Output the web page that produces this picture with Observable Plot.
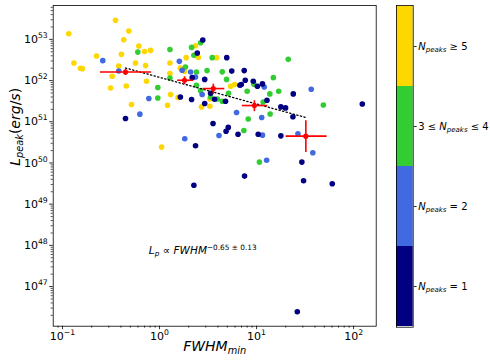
<!DOCTYPE html>
<html><head><meta charset="utf-8">
<script src="https://cdn.jsdelivr.net/npm/d3@7"></script>
<script src="https://cdn.jsdelivr.net/npm/@observablehq/plot@0.6"></script>
<style>
body{margin:0;background:#fff;}
#wrap{position:relative;width:490px;height:364px;font-family:"DejaVu Sans",sans-serif;}
#wrap svg{position:absolute;top:0;}
</style></head><body><div id="wrap"></div>
<script>
// categories (colorbar, top to bottom)
const groups = ["N_{peaks} ≥ 5", "3 ≤ N_{peaks} ≤ 4", "N_{peaks} = 2", "N_{peaks} = 1"];
const groupColors = ["#ffd700", "#32cd32", "#4169e1", "#000080"];

// N_peaks >= 5
const fwhmN5 = [0.116,0.352,0.483,0.428,0.131,0.153,0.160,0.224,0.405,0.380,0.325,0.313,0.454,0.514,0.612,0.700,0.807,0.566,0.718,0.735,1.05,1.28,1.28,1.30,1.21,1.55,1.88,2.35,2.51,1.64,1.81,3.87,2.71,3.30,5.40,5.93,3.30];
const lpeakN5 = [1.37e53,2.9e53,1.59e53,9.8e52,2.67e52,1.99e52,1.95e52,3.94e52,4.34e52,2.26e52,1.27e52,6.6e51,7.4e51,2.62e51,6.9e52,5.1e52,5.4e52,2.67e52,2.31e52,9.6e51,2.43e50,2.67e52,1.48e52,4.58e51,2.51e51,3.87e51,3.6e52,7.0e52,3.66e52,2.02e52,1.68e52,3.6e52,2.3e51,2.39e51,7.3e51,8.0e51,3.58e51];
// 3 <= N_peaks <= 4
const fwhmN34 = [0.597,1.28,2.14,2.65,2.26,1.85,2.40,1.28,0.96,0.96,2.40,2.65,3.09,3.49,4.43,4.91,3.36,3.94,4.43,5.14,8.0,14.9,13.7,16.9,11.7,13.8,8.2,7.4,21.2,48.8,10.7,9.4];
const lpeakN34 = [4.92e52,5.7e52,6.4e52,8.3e52,4.1e52,2.13e52,1.61e52,1.16e52,6.8e51,3.79e51,7.7e51,5.7e51,1.75e52,3.6e52,1.63e52,1.07e52,4.0e51,3.58e51,3.15e51,4.9e51,5.5e51,1.18e52,4.75e51,5.5e51,3.03e51,1.55e51,1.17e51,6.15e50,3.28e52,2.56e51,1.05e50,8.1e51];
// N_peaks = 2
const fwhmN2 = [0.260,0.380,0.627,0.776,1.60,1.71,2.09,2.35,1.82,4.10,6.22,2.75,12.0,11.3,11.5,36.6,26.7,38.0,12.7];
const lpeakN2 = [3.05e52,1.71e52,1.53e51,3.66e51,2.93e52,1.78e52,1.61e52,1.22e52,3.86e50,4.66e50,1.68e51,4.58e51,7.0e51,1.27e51,4.74e50,6.15e51,5.1e50,1.77e50,1.16e50];
// N_peaks = 1
const fwhmN1 = [2.79,2.45,2.17,2.92,1.64,2.14,2.92,3.36,3.69,4.79,4.93,5.55,6.73,0.446,3.56,5.11,4.85,6.44,2.35,7.46,7.65,6.96,9.25,10.2,11.5,23.9,12.8,17.8,19.9,23.7,10.4,17.8,123,29.3,7.52,30.5,60.3,26.3,2.26];
const lpeakN1 = [9.7e52,4.66e52,1.18e52,1.07e52,4.0e51,3.47e51,2.77e51,4.9e51,3.52e51,3.15e51,3.6e52,1.70e52,7.7e51,1.2e51,9.1e50,7.3e50,5.9e50,5.0e50,2.61e50,1.75e52,1.02e52,8.0e51,9.6e51,7.3e51,8.3e51,4.75e51,3.34e51,2.3e51,2.17e51,1.32e51,5.0e50,4.56e50,2.71e51,1.05e50,4.8e49,3.7e49,3.13e49,2.45e46,2.87e49];

// binned averages with errors
const binX = [0.446,1.81,3.58,9.5,32.2];
const binXlo = [0.243,1.52,2.79,7.05,19.9];
const binXhi = [0.820,2.22,4.65,12.9,52.7];
const binY = [1.61e52,1.02e52,6.4e51,2.48e51,4.48e50];
const binYlo = [1.36e52,8.2e51,4.8e51,1.81e51,1.84e50];
const binYhi = [1.91e52,1.27e52,8.4e51,3.34e51,1.09e51];

// fit line end points
const fitX = [0.446, 32.2];
const fitY = [2.02e52, 1.27e51];

// ticks
const xMajor = [0.1, 1, 10, 100];
const xTickLabels = ["10^{−1}", "10^{0}", "10^{1}", "10^{2}"];
const yMajor = [1e47, 1e48, 1e49, 1e50, 1e51, 1e52, 1e53];
const yTickLabels = ["10^{47}", "10^{48}", "10^{49}", "10^{50}", "10^{51}", "10^{52}", "10^{53}"];

const annotText = "L_{p} ∝ FWHM^{−0.65 ± 0.13}";
const annotX = 0.776, annotY = 7.4e47;

const xDomain = [0.0802, 171];
const yDomain = [1.09e46, 6.65e53];

function minorTicks(lo, hi) {
  const out = [];
  for (let e = Math.floor(Math.log10(lo)); e <= Math.ceil(Math.log10(hi)); e++)
    for (let m = 2; m <= 9; m++) { const v = m * Math.pow(10, e); if (v >= lo && v <= hi) out.push(v); }
  return out;
}
const xMinor = minorTicks(xDomain[0], xDomain[1]);
const yMinor = minorTicks(yDomain[0], yDomain[1]);

const pts = [];
[[fwhmN5, lpeakN5, groups[0]], [fwhmN34, lpeakN34, groups[1]], [fwhmN2, lpeakN2, groups[2]], [fwhmN1, lpeakN1, groups[3]]]
  .forEach(([xs, ys, g]) => xs.forEach((x, i) => pts.push({fwhm: x, lpeak: ys[i], group: g})));
const bins = binX.map((x, i) => ({x, xlo: binXlo[i], xhi: binXhi[i], y: binY[i], ylo: binYlo[i], yhi: binYhi[i]}));
const fit = fitX.map((x, i) => ({x, y: fitY[i]}));

const main = Plot.plot({
  width: 490, height: 364,
  marginLeft: 52.7, marginRight: 114.3, marginTop: 5, marginBottom: 38.3,
  style: {fontFamily: "DejaVu Sans", fontSize: "11px", color: "#000", background: "transparent"},
  x: {type: "log", domain: xDomain},
  y: {type: "log", domain: yDomain},
  color: {domain: groups, range: groupColors},
  marks: [
    Plot.axisX(xMinor, {tickSize: 2, tickFormat: () => "", label: null, strokeWidth: 0.7}),
    Plot.axisX(xMajor, {tickSize: 3.5, tickPadding: 2.5, tickFormat: d => xTickLabels[xMajor.indexOf(d)], label: null, strokeWidth: 0.8}),
    Plot.axisY(yMinor, {tickSize: 2, tickFormat: () => "", label: null, strokeWidth: 0.7}),
    Plot.axisY(yMajor, {tickSize: 3.5, tickPadding: 2, tickFormat: d => yTickLabels[yMajor.indexOf(d)], label: null, strokeWidth: 0.8}),
    Plot.dot(pts, {x: "fwhm", y: "lpeak", fill: "group", r: 2.8}),
    Plot.line(fit, {x: "x", y: "y", stroke: "#000", strokeWidth: 1.3, strokeDasharray: "1.3,2.4"}),
    Plot.link(bins, {x1: "xlo", x2: "xhi", y1: "y", y2: "y", stroke: "red", strokeWidth: 1.6}),
    Plot.link(bins, {x1: "x", x2: "x", y1: "ylo", y2: "yhi", stroke: "red", strokeWidth: 1.6}),
    Plot.dot(bins, {x: "x", y: "y", fill: "red", r: 2.6}),
    Plot.text([annotText], {x: () => annotX, y: () => annotY, text: d => d, textAnchor: "start", fontSize: 10.5}),
    Plot.text(["FWHM_{min}"], {frameAnchor: "bottom", dy: 25, text: d => d, fontSize: 14}),
    Plot.text(["L_{peak}(erg/s)"], {frameAnchor: "left", dx: -38, rotate: -90, text: d => d, fontSize: 14}),
    Plot.frame({stroke: "#000", strokeWidth: 0.8})
  ]
});

const cbar = Plot.plot({
  width: 110, height: 364,
  marginLeft: 16, marginRight: 77.3, marginTop: 5, marginBottom: 37.3,
  style: {fontFamily: "DejaVu Sans", fontSize: "10px", color: "#000", background: "transparent"},
  x: {axis: null},
  y: {type: "band", domain: groups, padding: 0, axis: null},
  color: {domain: groups, range: groupColors},
  marks: [
    Plot.cell(groups, {y: d => d, fill: d => d}),
    Plot.frame({stroke: "#000", strokeWidth: 0.8}),
    Plot.axisY({anchor: "right", tickSize: 3, tickPadding: 2, label: null, strokeWidth: 0.8})
  ]
});

const wrap = document.getElementById("wrap");
main.style.left = "0px";
cbar.style.left = "380px";
wrap.appendChild(main);
wrap.appendChild(cbar);

function richify(svg) {
  svg.querySelectorAll("text").forEach(t => {
    const s = t.textContent;
    if (!/[_^]\{/.test(s) && !/[A-Za-z]/.test(s)) return;
    const base = parseFloat(getComputedStyle(t).fontSize) || 11;
    const segs = []; let i = 0, buf = "";
    while (i < s.length) {
      if ((s[i] === "_" || s[i] === "^") && s[i + 1] === "{") {
        if (buf) segs.push({t: buf, k: 0}); buf = "";
        const j = s.indexOf("}", i);
        segs.push({t: s.slice(i + 2, j), k: s[i] === "_" ? -1 : 1});
        i = j + 1;
      } else buf += s[i++];
    }
    if (buf) segs.push({t: buf, k: 0});
    t.textContent = "";
    segs.forEach(seg => {
      seg.t.split(/([A-Za-z]+)/).forEach(part => {
        if (!part) return;
        const ts = document.createElementNS("http://www.w3.org/2000/svg", "tspan");
        ts.textContent = part;
        if (/^[A-Za-z]+$/.test(part)) ts.setAttribute("font-style", "italic");
        if (seg.k) {
          ts.setAttribute("font-size", (base * 0.7) + "px");
          ts.setAttribute("baseline-shift", (seg.k > 0 ? base * 0.42 : -base * 0.22) + "px");
        }
        t.appendChild(ts);
      });
    });
  });
}
richify(main);
richify(cbar);
</script></body></html>
